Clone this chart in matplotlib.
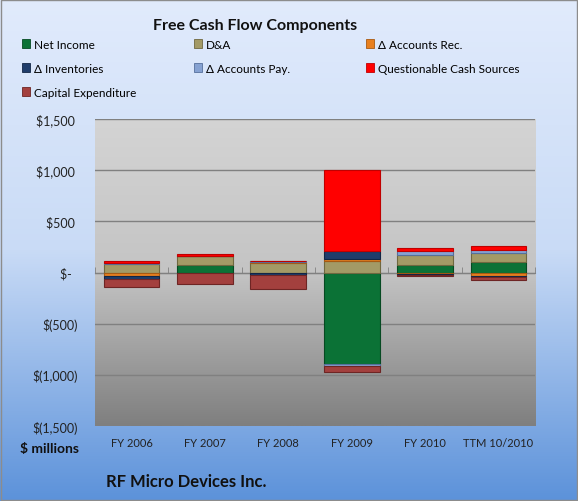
import numpy as np
import matplotlib
matplotlib.use('Agg')
import matplotlib.pyplot as plt
from matplotlib.patches import Patch
from matplotlib.colors import LinearSegmentedColormap

plt.rcParams['font.family'] = ['Lato', 'DejaVu Sans']

categories = ['FY 2006', 'FY 2007', 'FY 2008', 'FY 2009', 'FY 2010', 'TTM 10/2010']
net_income = [0, 75, 0, -890, 75, 108]
d_and_a = [82, 88, 92, 118, 98, 82]
accounts_rec = [-36, 0, 13, 15, -10, -33]
inventories = [-29, 0, -26, 75, -10, -13]
accounts_pay = [13, 0, 10, -26, 33, 29]
questionable = [23, 20, 0, 794, 39, 42]
capex = [-75, -114, -138, -50, -12, -26]

series = [
    ('Net Income', net_income, '#0b7236', '#064a22'),
    ('D&A', d_and_a, '#a39a66', '#6f6840'),
    ('\u0394 Accounts Rec.', accounts_rec, '#e8801f', '#a85a12'),
    ('\u0394 Inventories', inventories, '#1f3d6b', '#122645'),
    ('\u0394 Accounts Pay.', accounts_pay, '#86a2d2', '#56709c'),
    ('Questionable Cash Sources', questionable, '#ff0000', '#c00000'),
    ('Capital Expenditure', capex, '#a3403e', '#6e2524'),
]

fig = plt.figure(figsize=(5.78, 5.02), dpi=100)

# figure background gradient
bg = fig.add_axes([0, 0, 1, 1], zorder=-10)
bg_cmap = LinearSegmentedColormap.from_list('bg', ['#e1ebfc', '#c9dbf6', '#5c92da'])
bg.imshow(np.linspace(0, 1, 256).reshape(-1, 1), cmap=bg_cmap, aspect='auto',
          extent=[0, 1, 0, 1], origin='upper')
bg.set_axis_off()
bg.add_patch(plt.Rectangle((0.001, 0.001), 0.997, 0.997, fill=False,
                           edgecolor='#8c8c8c', lw=1))

ax = fig.add_axes([0.164, 0.149, 0.762, 0.612])
x = np.arange(len(categories))

# plot area gradient
pa_cmap = LinearSegmentedColormap.from_list('pa', ['#d4d4d4', '#c4c4c4', '#7f7f7f'])
ax.imshow(np.linspace(0, 1, 256).reshape(-1, 1), cmap=pa_cmap, aspect='auto',
          extent=[-0.5, 5.5, -1500, 1500], origin='upper', zorder=0)

pos_bottom = np.zeros(len(categories))
neg_bottom = np.zeros(len(categories))
handles = {}
for name, vals, color, edge in series:
    v = np.array(vals, dtype=float)
    bottom = np.where(v >= 0, pos_bottom, neg_bottom)
    ax.bar(x, v, 0.76, bottom=bottom, color=color, edgecolor=edge,
           linewidth=0.8, zorder=3)
    pos_bottom += np.clip(v, 0, None)
    neg_bottom += np.clip(v, None, 0)
    handles[name] = Patch(facecolor=color, edgecolor=edge, linewidth=0.6)

ax.set_xlim(-0.5, 5.5)
ax.set_ylim(-1500, 1500)
ax.set_yticks([1500, 1000, 500, 0, -500, -1000, -1500])
ax.set_yticklabels(['$1,500 ', '$1,000 ', '$500 ', '$-  ', '$(500)', '$(1,000)', '$(1,500)'])
ax.tick_params(axis='y', length=0, pad=12, labelsize=9, labelcolor='#222222')
ax.yaxis.grid(True, color='#808080', linewidth=1)
ax.set_axisbelow(False)
for g in ax.get_ygridlines():
    g.set_zorder(1)
for s in ['top', 'right', 'left']:
    ax.spines[s].set_visible(False)
ax.spines['bottom'].set_position(('data', 0))
ax.spines['bottom'].set_color('#808080')
ax.spines['bottom'].set_zorder(2)
ax.set_xticks([])
ax.set_xticks(np.arange(-0.5, 6, 1), minor=True)
ax.tick_params(axis='x', which='minor', direction='in', length=4, color='#808080')

sec = ax.secondary_xaxis('bottom')
sec.set_xticks(x, categories)
sec.tick_params(length=0, pad=8, labelsize=8, labelcolor='#222222')
sec.spines['bottom'].set_visible(False)

fig.text(0.441, 0.948, 'Free Cash Flow Components', ha='center', va='center',
         fontsize=11.5, fontweight='bold', color='#111111')
fig.text(0.035, 0.105, '$ millions', ha='left', va='center', fontsize=10,
         fontweight='bold', color='#111111')
fig.text(0.183, 0.04, 'RF Micro Devices Inc.', ha='left', va='center', fontsize=12,
         fontweight='bold', color='#111111')

columns = [
    (['Net Income', '\u0394 Inventories', 'Capital Expenditure'], 0.038),
    (['D&A', '\u0394 Accounts Pay.'], 0.336),
    (['\u0394 Accounts Rec.', 'Questionable Cash Sources'], 0.633),
]
for names, xpos in columns:
    fig.legend([handles[n] for n in names], names, loc='upper left',
               bbox_to_anchor=(xpos, 0.921), frameon=False, fontsize=8.5,
               handlelength=0.7, handleheight=0.7, handletextpad=0.3,
               labelspacing=1.1, borderaxespad=0, borderpad=0)

fig.savefig('out.png', dpi=100)
